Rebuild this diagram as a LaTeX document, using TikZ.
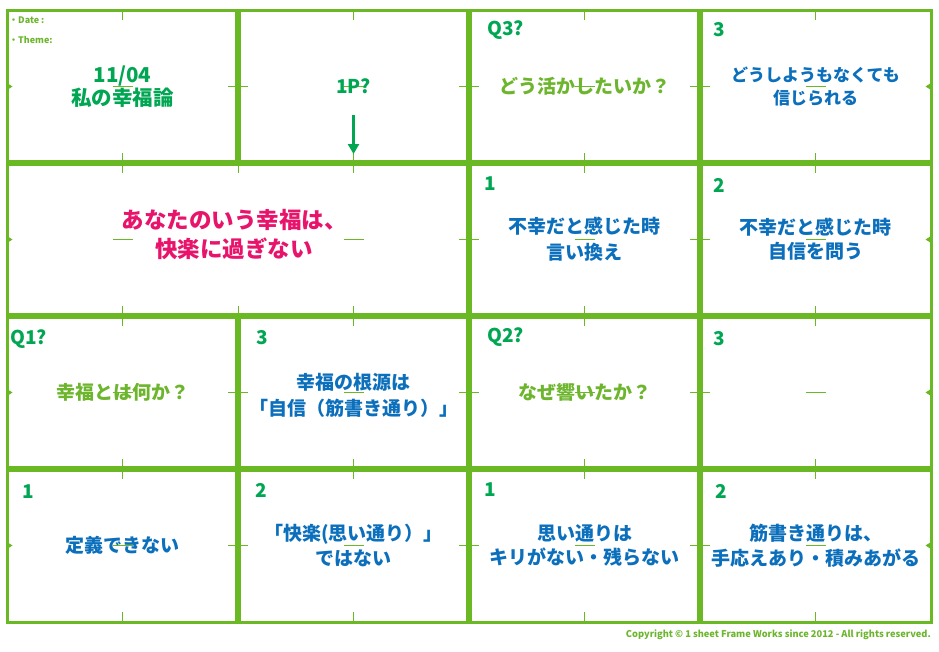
\documentclass[tikz,border=0pt]{standalone}
\usepackage{fontspec}
\setmainfont{Noto Sans CJK JP}
\usetikzlibrary{arrows.meta}
\definecolor{framegreen}{HTML}{6AB823}
\definecolor{labelgreen}{HTML}{00A651}
\definecolor{askgreen}{HTML}{6CB52D}
\definecolor{answerblue}{HTML}{0B6FBC}
\definecolor{themepink}{HTML}{E8136B}

\begin{document}
\begin{tikzpicture}[x=1pt,y=-1pt,>={Triangle[width=11pt,length=10pt]},
    rule/.style={draw=framegreen,line width=5.5pt},
    cutmark/.style={draw=framegreen,line width=0.9pt},
    numlabel/.style={anchor=west,inner sep=0pt,text=labelgreen,font=\bfseries\fontsize{19}{19}\selectfont},
    ask/.style={inner sep=0pt,text=askgreen,font=\bfseries\fontsize{19}{24}\selectfont},
    answer/.style={inner sep=0pt,align=center,text=answerblue,font=\bfseries\fontsize{19}{24.5}\selectfont},
    small/.style={anchor=west,inner sep=0pt,text=askgreen,font=\bfseries\fontsize{9}{9}\selectfont}]

\useasboundingbox (0,0) rectangle (939,651);

% cell centres, c<row><col>
\foreach \i in {1,...,4}
  \foreach \j in {1,...,4}
    \coordinate (c\j\i) at ({7+231*(\i-1)+115.5},{10+153*(\j-1)+76.5});

% sheet
\draw[rule] (7,163) -- (931,163);
\draw[rule] (7,316) -- (931,316);
\draw[rule] (7,469) -- (931,469);
\draw[rule] (238,10) -- (238,163);
\draw[rule] (238,316) -- (238,622);
\draw[rule] (469,10) -- (469,622);
\draw[rule] (700,10) -- (700,622);
\draw[draw=framegreen,line width=3pt] (7,10) rectangle (931,622);

% small marks
\foreach \x in {122.5,353.5,584.5,815.5} {
  \draw[cutmark] (\x,10) -- (\x,20);
  \foreach \y in {163,316,469}
    \draw[cutmark] (\x,{\y-10}) -- (\x,{\y+10});
  \draw[cutmark] (\x,612) -- (\x,622);
  \foreach \y in {86.5,239.5,392.5,545.5}
    \draw[cutmark] ({\x-10},\y) -- ({\x+10},\y);
}
\foreach \x in {469,700}
  \foreach \y in {86.5,239.5,392.5,545.5}
    \draw[cutmark] ({\x-10},\y) -- ({\x+10},\y);
\foreach \y in {86.5,392.5,545.5}
  \draw[cutmark] (228,\y) -- (248,\y);
\draw[cutmark] (238,163) -- (238,173);
\draw[cutmark] (238,306) -- (238,316);
\foreach \y in {86.5,239.5,392.5,545.5} {
  \fill[framegreen] (7,{\y-3.5}) -- (12.5,\y) -- (7,{\y+3.5}) -- cycle;
  \fill[framegreen] (931,{\y-3.5}) -- (925.5,\y) -- (931,{\y+3.5}) -- cycle;
}

% row 1
\node[small] (date) at (9,20) {・Date :};
\node[small] (theme) at (9,40) {・Theme:};
\node[inner sep=0pt,align=center,text=labelgreen,font=\bfseries\fontsize{20.5}{23}\selectfont] (day) at (c11) {11/04\\私の幸福論};
\node[inner sep=0pt,text=labelgreen,font=\bfseries\fontsize{19}{19}\selectfont] (onep) at (c12) {1P?};
\coordinate (ptop) at (353.5,115);
\coordinate (pend) at (353.5,154);
\draw[->,labelgreen,line width=3.5pt] (ptop) -- (pend);
\node[numlabel] (n13) at (487,30) {Q3?};
\node[ask] (q3) at (c13) {どう活かしたいか？};
\node[numlabel] (n14) at (713,30) {3};
\node[answer,font=\bfseries\fontsize{17}{23}\selectfont] (a14) at (c14) {どうしようもなくても\\信じられる};

% row 2
\coordinate (wide) at (234,235);
\node[inner sep=0pt,align=center,text=themepink,font=\bfseries\fontsize{22.5}{29}\selectfont] (claim) at (wide) {あなたのいう幸福は、\\快楽に過ぎない};
\node[numlabel] (n23) at (484,184) {1};
\node[answer,font=\bfseries\fontsize{19}{26}\selectfont] (a23) at (c23) {不幸だと感じた時\\言い換え};
\node[numlabel] (n24) at (713,185) {2};
\node[answer,font=\bfseries\fontsize{19}{24}\selectfont] (a24) at (c24) {不幸だと感じた時\\自信を問う};

% row 3
\node[numlabel] (n31) at (10,339) {Q1?};
\node[ask] (q1) at (c31) {幸福とは何か？};
\node[numlabel] (n32) at (256,338) {3};
\node[answer,font=\bfseries\fontsize{19}{26}\selectfont] (a32) at ([yshift=-3pt]c32) {幸福の根源は\\「自信（筋書き通り）」};
\node[numlabel] (n33) at (487,337) {Q2?};
\node[ask] (q2) at (c33) {なぜ響いたか？};
\node[numlabel] (n34) at (713,339) {3};

% row 4
\node[numlabel] (n41) at (22,492) {1};
\node[answer] (a41) at (c41) {定義できない};
\node[numlabel] (n42) at (255,490) {2};
\node[answer] (a42) at (c42) {「快楽(思い通り）」\\ではない};
\node[numlabel] (n43) at (484,490) {1};
\node[answer] (a43) at (c43) {思い通りは\\キリがない・残らない};
\node[numlabel] (n44) at (715,491) {2};
\node[answer] (a44) at (c44) {筋書き通りは、\\手応えあり・積みあがる};

\node[anchor=east,inner sep=0pt,text=askgreen,font=\bfseries\fontsize{9.3}{9.3}\selectfont] (copy) at (931,635) {Copyright © 1 sheet Frame Works since 2012 - All rights reserved.};
\end{tikzpicture}
\end{document}
